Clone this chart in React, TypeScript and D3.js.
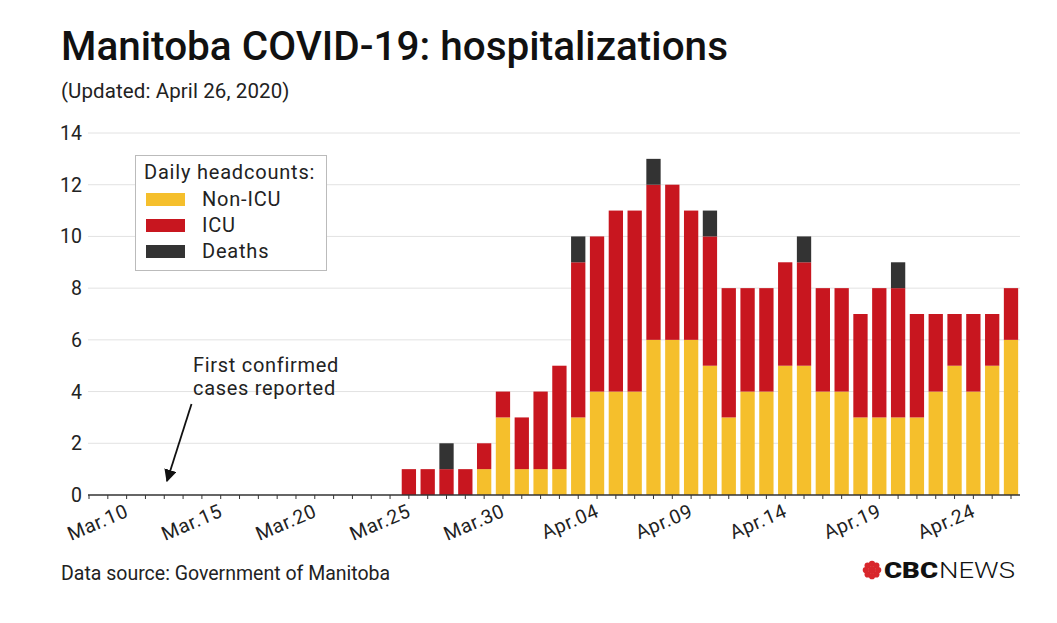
import React from "react";
import * as d3 from "d3";

const days = [
  "2020-03-25","2020-03-26","2020-03-27","2020-03-28","2020-03-29","2020-03-30","2020-03-31",
  "2020-04-01","2020-04-02","2020-04-03","2020-04-04","2020-04-05","2020-04-06","2020-04-07",
  "2020-04-08","2020-04-09","2020-04-10","2020-04-11","2020-04-12","2020-04-13","2020-04-14",
  "2020-04-15","2020-04-16","2020-04-17","2020-04-18","2020-04-19","2020-04-20","2020-04-21",
  "2020-04-22","2020-04-23","2020-04-24","2020-04-25","2020-04-26",
];
const nonIcu = [0,0,0,0,1,3,1,1,1,3,4,4,4,6,6,6,5,3,4,4,5,5,4,4,3,3,3,3,4,5,4,5,6];
const icu    = [1,1,1,1,1,1,2,3,4,6,6,7,7,6,6,5,5,5,4,4,4,4,4,4,4,5,5,4,3,2,3,2,2];
const deaths = [0,0,1,0,0,0,0,0,0,1,0,0,0,1,0,0,1,0,0,0,0,1,0,0,0,0,1,0,0,0,0,0,0];

const yTicks = [0, 2, 4, 6, 8, 10, 12, 14];
const xLabelDates = ["2020-03-10","2020-03-15","2020-03-20","2020-03-25","2020-03-30","2020-04-04","2020-04-09","2020-04-14","2020-04-19","2020-04-24"];
const axisStart = "2020-03-08";
const axisEnd = "2020-04-26";

const seriesKeys = ["nonIcu", "icu", "deaths"];
const seriesNames = ["Non-ICU", "ICU", "Deaths"];
const seriesColors = ["#F5BF2C", "#C8161F", "#333333"];

const FONT = "Roboto, 'DejaVu Sans', sans-serif";

const parse = d3.utcParse("%Y-%m-%d");
const fmt = d3.utcFormat("%b.%d");

export default function App() {
  const W = 1057, H = 623;
  const x = d3.scaleUtc().domain([parse(axisStart)!, parse(axisEnd)!]).range([89, 1011]);
  const y = d3.scaleLinear().domain([0, 14]).range([495, 133]);
  const step = x(parse("2020-03-09")!) - x(parse("2020-03-08")!);
  const barW = step * 0.76;

  const rows = days.map((d, i) => ({ date: parse(d)!, nonIcu: nonIcu[i], icu: icu[i], deaths: deaths[i] }));
  const stacked = d3.stack<any>().keys(seriesKeys)(rows);
  const allDays = d3.utcDay.range(parse(axisStart)!, d3.utcDay.offset(parse(axisEnd)!, 1));

  return (
    <svg width={W} height={H} style={{ display: "block", position: "absolute", left: 0, top: 0, background: "#fff" }} fontFamily={FONT}>
      <rect width={W} height={H} fill="#fff" />
      <text x={61} y={60} fontSize={41} fill="#111" fontWeight={500} textLength={667} lengthAdjust="spacingAndGlyphs">Manitoba COVID-19: hospitalizations</text>
      <text x={61} y={98} fontSize={20.5} fill="#222" letterSpacing={0.1}>(Updated: April 26, 2020)</text>

      {yTicks.map((t) => (
        <g key={t}>
          {t > 0 && <line x1={88} x2={1020} y1={y(t)} y2={y(t)} stroke="#e2e2e2" strokeWidth={1} />}
          <text x={82} y={y(t) + 7} textAnchor="end" fontSize={19.5} fill="#222">{t}</text>
        </g>
      ))}

      {stacked.map((s, si) => (
        <g key={seriesKeys[si]} fill={seriesColors[si]}>
          {s.map((d, i) =>
            d[1] > d[0] ? (
              <rect key={i} x={x(d.data.date) - barW / 2} width={barW} y={y(d[1])} height={y(d[0]) - y(d[1])} />
            ) : null
          )}
        </g>
      ))}

      <line x1={88} x2={1020} y1={y(0)} y2={y(0)} stroke="#333" strokeWidth={1.5} />
      {allDays.map((d, i) => (
        <line key={i} x1={x(d)} x2={x(d)} y1={y(0)} y2={y(0) + 4} stroke="#333" strokeWidth={1} />
      ))}
      {xLabelDates.map((ds) => {
        const d = parse(ds)!;
        return (
          <text key={ds} transform={`translate(${x(d) + 3},${y(0) + 21}) rotate(-23)`} textAnchor="end" fontSize={19.5} fill="#222" letterSpacing={0.6}>
            {fmt(d)}
          </text>
        );
      })}

      <rect x={135.5} y={155.5} width={191} height={115} fill="#fff" stroke="#bbb" strokeWidth={1} />
      <text x={144} y={179} fontSize={20} fill="#222" letterSpacing={0.8}>Daily headcounts:</text>
      {seriesNames.map((n, i) => (
        <g key={n}>
          <rect x={146} y={193 + i * 26} width={39} height={13} fill={seriesColors[i]} />
          <text x={202} y={206 + i * 26} fontSize={20} fill="#222" letterSpacing={0.8}>{n}</text>
        </g>
      ))}

      <text x={193} y={372} fontSize={20} fill="#222" letterSpacing={0.7}>First confirmed</text>
      <text x={193} y={395} fontSize={20} fill="#222" letterSpacing={0.7}>cases reported</text>
      <defs>
        <marker id="arrowhead" viewBox="0 0 10 10" refX={9} refY={5} markerWidth={7} markerHeight={7} orient="auto">
          <path d="M0,0 L10,5 L0,10 z" fill="#111" />
        </marker>
      </defs>
      <line x1={191.5} y1={404} x2={167} y2={481} stroke="#111" strokeWidth={1.8} markerEnd="url(#arrowhead)" />

      <text x={61} y={580} fontSize={19.5} fill="#222">Data source: Government of Manitoba</text>

      <g transform="translate(872,570)">
        {d3.range(8).map((k) => {
          const a = (k * Math.PI) / 4;
          return <circle key={k} cx={Math.cos(a) * 6.2} cy={Math.sin(a) * 6.2} r={3.1} fill="#D8262B" />;
        })}
        <circle r={3.8} fill="#D8262B" />
      </g>
      <text x={884} y={578} fontSize={22} fontWeight={900} fill="#111" textLength={54} lengthAdjust="spacingAndGlyphs">CBC</text>
      <text x={939} y={578} fontSize={22} fontWeight={300} fill="#111" textLength={76} lengthAdjust="spacingAndGlyphs">NEWS</text>
    </svg>
  );
}
